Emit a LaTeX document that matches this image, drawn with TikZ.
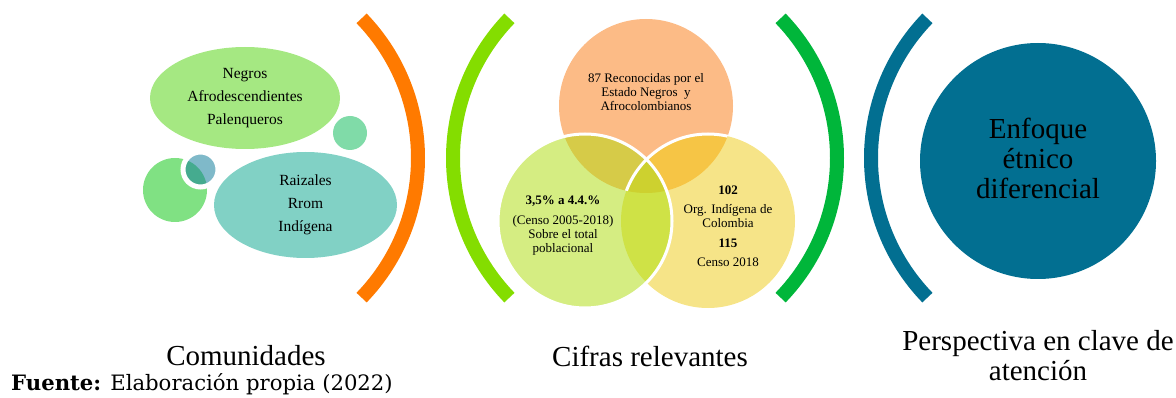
\documentclass[tikz,border=0pt]{standalone}
\usepackage{fontspec}
\setmainfont{Liberation Serif}
\newfontfamily\geofont{DejaVu Serif}
\usetikzlibrary{shapes.geometric}
\definecolor{brOrange}{RGB}{255,122,0}
\definecolor{brLime}{RGB}{132,221,0}
\definecolor{brGreen}{RGB}{0,182,58}
\definecolor{brTeal}{RGB}{2,111,145}
\definecolor{cNegros}{RGB}{165,232,130}
\definecolor{cMint}{RGB}{128,219,168}
\definecolor{cRaiz}{RGB}{129,209,197}
\definecolor{cBigGreen}{RGB}{128,225,131}
\definecolor{cBlue}{RGB}{127,185,201}
\definecolor{cBlueOv}{RGB}{69,171,143}
\definecolor{vOrange}{RGB}{252,187,134}
\definecolor{vGreen}{RGB}{213,237,130}
\definecolor{vYellow}{RGB}{246,228,136}
\definecolor{vOG}{RGB}{214,203,72}
\definecolor{vOY}{RGB}{246,197,69}
\definecolor{vGY}{RGB}{207,226,70}
\definecolor{vOGY}{RGB}{205,209,47}
\begin{document}
\begin{tikzpicture}[x=1pt,y=-1pt,
  bracket/.style={line width=14pt, line cap=butt},
  blob/.style={ellipse, inner sep=0pt, align=center, font=\fontsize{15.5}{23}\selectfont},
  disc/.style={circle, inner sep=0pt},
  venntxt/.style={align=center, font=\fontsize{13}{14}\selectfont},
  bigtxt/.style={align=center, font=\fontsize{29}{30}\selectfont}]
\useasboundingbox (0,0) rectangle (1176,398);

% ---- left group: Comunidades
\node[blob, fill=cNegros, minimum width=190pt, minimum height=102pt] (negros) at (245,98)
  {Negros\\Afrodescendientes\\Palenqueros};
\node[disc, fill=cMint, minimum size=34pt] (mint) at (350,133) {};
\node[blob, fill=cRaiz, minimum width=183pt, minimum height=106pt] (raiz) at (305.5,205)
  {Raizales\\Rrom\\Indígena};
\node[disc, fill=cBigGreen, minimum size=64pt] (bigg) at (175,190) {};
\node[disc, fill=cBlue, minimum size=35pt] (blue) at (200.5,169.5) {};
\begin{scope}
  \clip (200.5,169.5) circle[radius=17.5pt];
  \fill[cBlueOv] (175,190) circle[radius=32pt];
\end{scope}
\draw[white, line width=5pt] (200.5,169.5) circle[radius=17.5pt];

% ---- brackets
\draw[bracket, brOrange] (217,158) ++(-44:201) arc[start angle=-44, end angle=44, radius=201];
\draw[bracket, brLime] (654,158) ++(136:201) arc[start angle=136, end angle=224, radius=201];
\draw[bracket, brGreen] (636,158) ++(-44:201) arc[start angle=-44, end angle=44, radius=201];
\draw[bracket, brTeal] (1072,158) ++(136:201) arc[start angle=136, end angle=224, radius=201];

% ---- Venn
\node[disc, fill=vOrange, minimum size=174pt] (vo) at (646,106) {};
\node[disc, fill=vYellow, minimum size=174pt] (vy) at (708,221) {};
\node[disc, fill=vGreen, minimum size=174pt] (vg) at (585,221) {};
\begin{scope}
  \clip (646,106) circle[radius=87pt];
  \fill[vOY] (708,221) circle[radius=87pt];
  \fill[vOG] (585,221) circle[radius=87pt];
\end{scope}
\begin{scope}
  \clip (708,221) circle[radius=87pt];
  \fill[vGY] (585,221) circle[radius=87pt];
  \clip (646,106) circle[radius=87pt];
  \fill[vOGY] (585,221) circle[radius=87pt];
\end{scope}
\begin{scope}
  \clip (646,106) circle[radius=87pt];
  \draw[white, line width=3pt] (708,221) circle[radius=87pt];
\end{scope}
\draw[white, line width=3pt] (585,221) circle[radius=87pt];

\node[venntxt] (t87) at (646,92) {87 Reconocidas por el\\Estado Negros\ \ y\\Afrocolombianos};
\node[venntxt] (t35) at (563,226) {\textbf{3,5\% a 4.4.\%}\\[6pt](Censo 2005-2018)\\Sobre el total\\poblacional};
\node[venntxt] (t102) at (728,226) {\textbf{102}\\[5pt]Org. Indígena de\\Colombia\\[6pt]\textbf{115}\\[5pt]Censo 2018};

% ---- right circle
\node[disc, fill=brTeal, minimum size=236pt] (enf) at (1038,161) {};
\node[bigtxt] (enft) at (1038,158) {Enfoque\\étnico\\diferencial};

% ---- labels
\node[bigtxt] (lcom) at (246,356) {Comunidades};
\node[bigtxt] (lcif) at (650,356) {Cifras relevantes};
\node[bigtxt] (lper) at (1038,356) {Perspectiva en clave de\\atención};
\node[anchor=west, inner sep=0pt, font=\geofont\fontsize{21.2}{24}\selectfont] (fuente) at (11,384)
  {\textbf{Fuente:} Elaboración propia (2022)};
\end{tikzpicture}
\end{document}
